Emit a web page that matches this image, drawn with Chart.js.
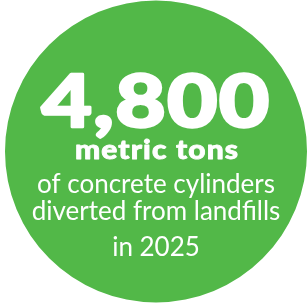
<!DOCTYPE html>
<html>
<head>
<meta charset="utf-8">
<script src="https://cdn.jsdelivr.net/npm/chart.js@4.4.1/dist/chart.umd.min.js"></script>
<style>
    html, body { margin: 0; padding: 0; background: #fff; overflow: hidden; }
    canvas { display: block; }
</style>
</head>
<body>
<canvas id="statChart" width="307" height="303"></canvas>
<script>
// data
const categories = ['Concrete cylinders diverted'];
const values = [4800];
const unitLine = ['metric tons'];
const captionLines = ['of concrete cylinders', 'diverted from landfills', 'in 2025'];

const green = '#52b848';

// stretched heavy text, Futura-ish look
function wideText(ctx, text, x, y, sx, stroke) {
    ctx.save();
    ctx.translate(x, y);
    ctx.scale(sx, 1);
    ctx.fillText(text, 0, 0);
    if (stroke) {
        ctx.lineWidth = stroke;
        ctx.lineJoin = 'round';
        ctx.strokeText(text, 0, 0);
    }
    ctx.restore();
}

// draws the text inside the circle
const centerText = {
    id: 'centerText',
    afterDatasetsDraw(chart) {
        const ctx = chart.ctx;
        const arc = chart.getDatasetMeta(0).data[0];
        const cx = arc.x;
        ctx.save();
        ctx.fillStyle = '#fff';
        ctx.strokeStyle = '#fff';
        ctx.textAlign = 'center';
        ctx.textBaseline = 'alphabetic';

        ctx.font = '900 72px Lato';
        ctx.letterSpacing = '1px';
        wideText(ctx, chart.data.datasets[0].data[0].toLocaleString('en-US'), cx, 127, 1.21, 2.5);

        ctx.font = '900 26px Lato';
        ctx.letterSpacing = '1px';
        wideText(ctx, unitLine[0], cx + 1, 159, 1.15, 0.8);

        ctx.font = '400 26px Lato';
        ctx.letterSpacing = '0px';
        const ys = [193, 220, 256];
        captionLines.forEach((t, i) => ctx.fillText(t, cx, ys[i]));
        ctx.restore();
    }
};

new Chart(document.getElementById('statChart'), {
    type: 'pie',
    data: {
        labels: categories,
        datasets: [{
            data: values,
            backgroundColor: green,
            borderWidth: 0,
        }]
    },
    options: {
        responsive: false,
        animation: false,
        layout: {
            padding: { left: 5 }
        },
        plugins: {
            legend: { display: false },
            tooltip: { enabled: false }
        }
    },
    plugins: [centerText]
});
</script>
</body>
</html>
